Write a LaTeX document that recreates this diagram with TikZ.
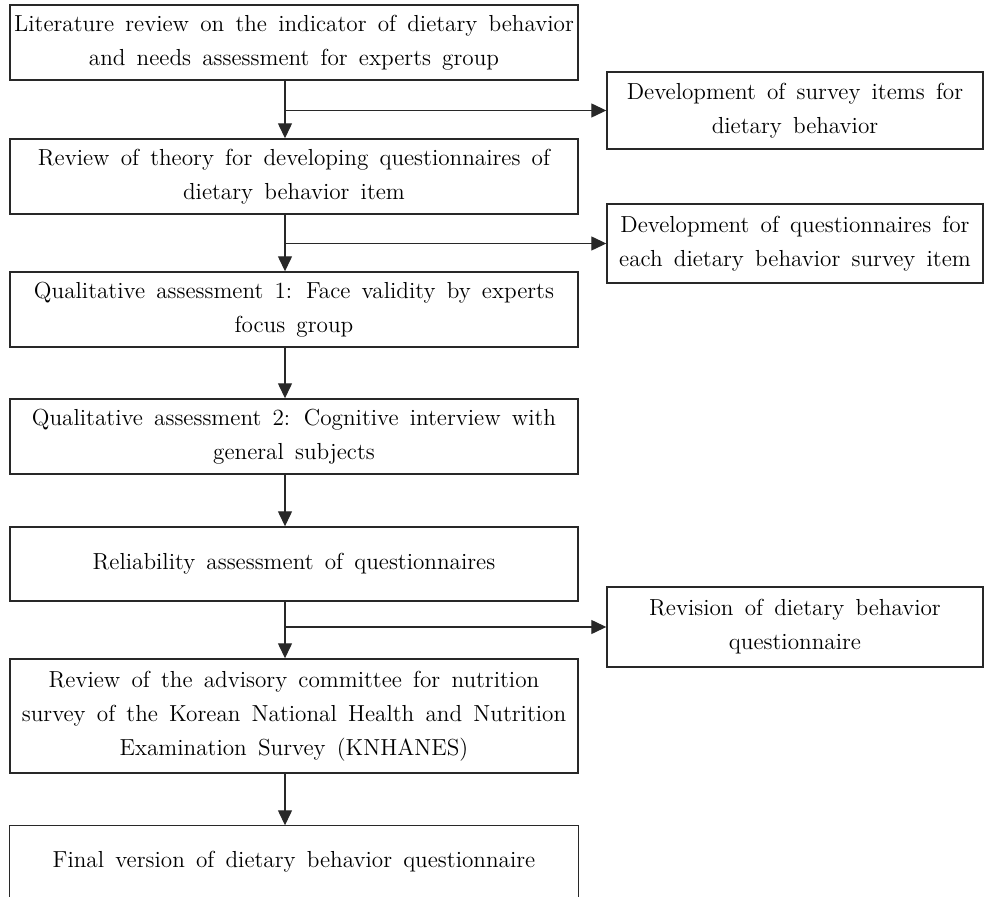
\documentclass[tikz,border=0pt]{standalone}
\usepackage{tikz}
\usetikzlibrary{arrows.meta,positioning,calc}
\definecolor{boxLine}{RGB}{40,40,40}
\tikzset{
  stagebox/.style={draw=boxLine,line width=0.7pt,minimum width=284pt,inner sep=0pt,align=center,
    font={\fontsize{11.6}{17}\selectfont\spaceskip=5.6pt plus 1pt minus 1pt}},
  sidebox/.style={stagebox,minimum width=188pt},
  flowarrow/.style={draw=boxLine,line width=0.65pt,-{Triangle[length=7.5pt,width=7pt]}}
}

\begin{document}
\begin{tikzpicture}[x=0.5pt,y=-0.5pt]
  \useasboundingbox (0,0) rectangle (984,897);
  % main stages
  \node[stagebox,minimum height=37.5pt] (lit) at (294,42.5) {Literature review on the indicator of dietary behavior\\ and needs assessment for experts group};
  \node[stagebox,minimum height=37.5pt] (theory) at (294,176.5) {Review of theory for developing questionnaires of\\ dietary behavior item};
  \node[stagebox,minimum height=37.5pt] (face) at (294,309.5) {Qualitative assessment 1: Face validity by experts\\ focus group};
  \node[stagebox,minimum height=37.5pt] (cogn) at (294,436.5) {Qualitative assessment 2: Cognitive interview with\\ general subjects};
  \node[stagebox,minimum height=37pt] (relia) at (294,564) {Reliability assessment of questionnaires};
  \node[stagebox,minimum height=57pt] (advis) at (294,716) {Review of the advisory committee for nutrition\\ survey of the Korean National Health and Nutrition\\ Examination Survey (KNHANES)};
  \node[stagebox,draw=none,minimum height=35.5pt] (final) at (294,861.5) {Final version of dietary behavior questionnaire};
  \draw[boxLine,line width=0.7pt] (final.south west) |- (final.north east) -- (final.south east);
  % side outputs
  \node[sidebox,minimum height=38.5pt] (items) at (795,110.5) {Development of survey items for\\ dietary behavior};
  \node[sidebox,minimum height=39.5pt] (quest) at (795,243.5) {Development of questionnaires for\\ each dietary behavior survey item};
  \node[sidebox,minimum height=40pt] (revis) at (795,627) {Revision of dietary behavior\\ questionnaire};
  % arrows
  \coordinate (spine) at (285,0);
  \foreach \from/\to in {lit/theory,theory/face,face/cogn,cogn/relia,relia/advis,advis/final}
    \draw[flowarrow] (spine |- \from.south) -- (spine |- \to.north);
  \foreach \from/\to in {lit/items,theory/quest,relia/revis}
    \draw[flowarrow] (spine |- \to.west) -- (\to.west);
\end{tikzpicture}
\end{document}
